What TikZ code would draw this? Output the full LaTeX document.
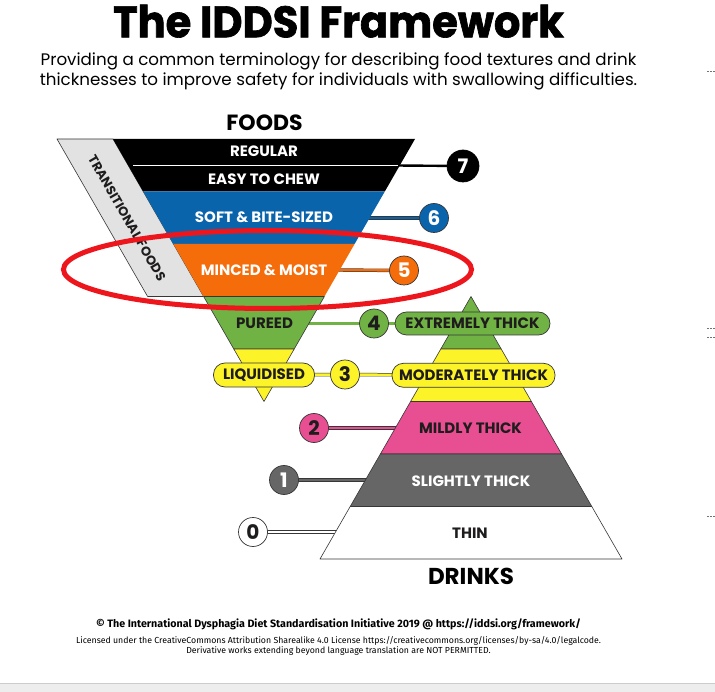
\documentclass[tikz,border=0pt]{standalone}
\usepackage{fontspec}
\setmainfont{Poppins}
\newfontfamily\titlefont{Poppins}[FakeBold=1.5,FakeStretch=0.945]
\newfontfamily\bandfont{Poppins}
\newfontfamily\notefont{Fira Sans}
\definecolor{iddsiblue}{RGB}{10,100,172}
\definecolor{iddsiorange}{RGB}{245,108,10}
\definecolor{iddsigreen}{RGB}{112,178,68}
\definecolor{iddsiyellow}{RGB}{252,244,40}
\definecolor{iddsipink}{RGB}{232,78,146}
\definecolor{iddsigray}{RGB}{102,102,102}
\definecolor{transgray}{RGB}{226,226,226}
\definecolor{outline}{RGB}{55,55,55}
\definecolor{textdark}{RGB}{30,28,28}
\definecolor{ringred}{RGB}{236,22,28}
\pgfdeclarelayer{background}
\pgfsetlayers{background,main}
\begin{document}
\begin{tikzpicture}[x=1pt, y=-1pt,
    bandedge/.style={draw=outline, line width=0.6pt, line join=round},
    bandtext/.style={inner sep=0pt, font=\bandfont\bfseries\fontsize{15}{16}\selectfont},
    pill/.style={bandtext, draw=outline, line width=0.7pt, rounded corners=11.5pt, minimum height=24pt, text=textdark},
    numdot/.style={circle, draw=outline, line width=0.7pt, minimum size=29pt, inner sep=0pt, font=\bandfont\bfseries\fontsize{20}{20}\selectfont},
    tube/.style={draw=outline, line width=0.5pt, double distance=2.4pt}
    ]
    \useasboundingbox (0,0) rectangle (715,692);
    \begin{pgfonlayer}{background}
        \fill[white] (0,0) rectangle (715,692);
    \end{pgfonlayer}
    % screenshot leftovers
    \fill[black!7] (0,683) rectangle (715,692);
    \draw[black!20, line width=1pt] (0,683) -- (715,683);
    \foreach \y in {71,328.5,337,516}
        \draw[black!55, dash pattern=on 2pt off 1pt, line width=0.8pt] (707,\y) -- (715,\y);

    % heading
    \node[anchor=base, font=\titlefont\bfseries\fontsize{44}{44}\selectfont] (title) at (338.5,37.3) {The IDDSI Framework};
    \node[anchor=base, font=\fontsize{16.7}{18}\selectfont] (sub1) at (338.5,65.7)
        {Providing a common terminology for describing food textures and drink};
    \node[anchor=base, font=\fontsize{16.7}{18}\selectfont] (sub2) at (338.5,86)
        {thicknesses to improve safety for individuals with swallowing difficulties.};

    % transitional foods
    \filldraw[fill=transgray, bandedge] (57,139) -- (113,139) -- (203.6,296.5) -- (147.6,296.5) -- cycle;
    \node[bandtext, rotate=-60.1, text=textdark, font=\bandfont\bfseries\fontsize{13}{13}\selectfont] (trans) at (127,218) {TRANSITIONAL FOODS};

    % foods
    \node[bandtext, text=black, font=\bandfont\bfseries\fontsize{22}{22}\selectfont] (foods) at (264.5,123) {FOODS};
    \fill[black] (113,139) -- (415,139) -- (384.8,191.5) -- (143.2,191.5) -- cycle;
    \draw[white, line width=1.2pt] (133,165.5) -- (398,165.5);
    \fill[iddsiblue] (143.2,191.5) -- (384.8,191.5) -- (354.6,244) -- (173.4,244) -- cycle;
    \fill[iddsiorange] (173.4,244) -- (354.6,244) -- (324.4,296.5) -- (203.6,296.5) -- cycle;
    \filldraw[fill=iddsigreen, bandedge] (203.6,296.5) -- (324.4,296.5) -- (294.2,349) -- (233.8,349) -- cycle;
    \filldraw[fill=iddsiyellow, bandedge] (233.8,349) -- (294.2,349) -- (264,401.5) -- cycle;
    \node[bandtext, text=white] (regular) at (264,151.5) {REGULAR};
    \node[bandtext, text=white] (easy) at (264,179) {EASY TO CHEW};
    \node[bandtext, text=white] (soft) at (264,217.5) {SOFT \& BITE-SIZED};
    \node[bandtext, text=white] (minced) at (264,270) {MINCED \& MOIST};
    \node[bandtext, text=textdark] (pureed) at (264.5,323.5) {PUREED};
    \node[pill, fill=iddsiyellow, minimum width=101pt] (liquid) at (264,375) {LIQUIDISED};

    % drinks
    \filldraw[fill=iddsigreen, bandedge] (471,296.5) -- (501.2,349) -- (440.8,349) -- cycle;
    \filldraw[fill=iddsiyellow, bandedge] (440.8,349) -- (501.2,349) -- (531.4,401.5) -- (410.6,401.5) -- cycle;
    \filldraw[fill=iddsipink, bandedge] (410.6,401.5) -- (531.4,401.5) -- (561.6,454) -- (380.4,454) -- cycle;
    \filldraw[fill=iddsigray, bandedge] (380.4,454) -- (561.6,454) -- (591.8,506.5) -- (350.2,506.5) -- cycle;
    \filldraw[fill=white, bandedge] (350.2,506.5) -- (591.8,506.5) -- (622,559) -- (320,559) -- cycle;
    \node[pill, fill=iddsigreen, minimum width=155pt, minimum height=23pt] (extreme) at (472.5,323.5) {EXTREMELY THICK};
    \node[pill, fill=iddsiyellow, minimum width=163pt] (moderate) at (473.5,375.3) {MODERATELY THICK};
    \node[bandtext, text=textdark] (mildly) at (470.5,428) {MILDLY THICK};
    \node[bandtext, text=white] (slightly) at (471,481) {SLIGHTLY THICK};
    \node[bandtext, text=textdark] (thin) at (470,533) {THIN};
    \node[bandtext, text=black, font=\bandfont\bfseries\fontsize{23}{24}\selectfont] (drinks) at (471,576.5) {DRINKS};

    % level numbers
    \node[numdot, fill=black, draw=black, text=white, minimum size=32pt] (n7) at (463,166) {7};
    \node[numdot, fill=iddsiblue, text=white] (n6) at (434,218) {6};
    \node[numdot, fill=iddsiorange, text=white] (n5) at (404,270.5) {5};
    \node[numdot, fill=iddsigreen, text=textdark] (n4) at (374,323.5) {4};
    \node[numdot, fill=iddsiyellow, text=textdark] (n3) at (345,374.5) {3};
    \node[numdot, fill=iddsipink, text=textdark] (n2) at (314,428) {2};
    \node[numdot, fill=iddsigray, text=white] (n1) at (284,480) {1};
    \node[numdot, fill=white, text=textdark] (n0) at (253,532) {0};

    % band ends of the connectors
    \coordinate (e7) at (396,165.5);
    \coordinate (e6) at (366,218);
    \coordinate (e5) at (336,270);
    \coordinate (e4) at (305,323.5);
    \coordinate (e2) at (399,428);
    \coordinate (e1) at (369,480);
    \coordinate (e0) at (339,532);
    \begin{pgfonlayer}{background}
        \draw[black, line width=2.4pt] (e7) -- (n7.center);
        \draw[tube, double=iddsiblue] (e6) -- (n6.center);
        \draw[tube, double=iddsiorange] (e5) -- (n5.center);
        \draw[tube, double=iddsigreen] (e4) -- (n4.center) -- (extreme.center);
        \draw[tube, double=iddsiyellow] (liquid.center) -- (n3.center) -- (moderate.center);
        \draw[tube, double=iddsipink] (n2.center) -- (e2);
        \draw[tube, double=iddsigray] (n1.center) -- (e1);
        \draw[tube, double=white] (n0.center) -- (e0);
    \end{pgfonlayer}

    % highlight
    \draw[ringred, line width=5pt] (267.5,269.5) ellipse [x radius=204, y radius=39];

    % footer
    \node[anchor=base, font=\notefont\bfseries\fontsize{10.7}{12}\selectfont] (credit) at (338.5,627)
        {\textcopyright{} The International Dysphagia Diet Standardisation Initiative 2019 @ https://iddsi.org/framework/};
    \node[anchor=base, font=\notefont\fontsize{8.75}{9}\selectfont] (licence) at (338.5,643.5)
        {Licensed under the CreativeCommons Attribution Sharealike 4.0 License https://creativecommons.org/licenses/by-sa/4.0/legalcode.};
    \node[anchor=base, font=\notefont\fontsize{8.75}{9}\selectfont] (deriv) at (338.5,653.5)
        {Derivative works extending beyond language translation are NOT PERMITTED.};
\end{tikzpicture}
\end{document}
